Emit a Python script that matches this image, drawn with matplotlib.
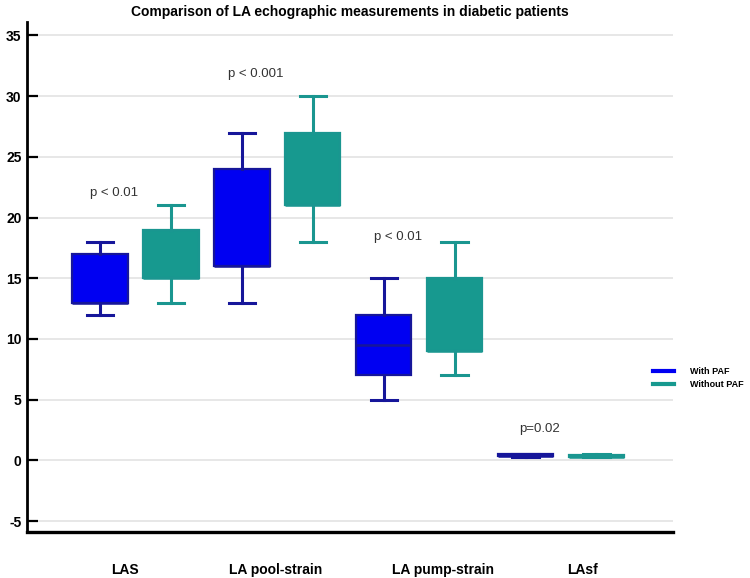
import matplotlib
matplotlib.use("Agg")
import matplotlib.pyplot as plt
from matplotlib.lines import Line2D

plt.rcParams['font.family'] = ['Liberation Sans Narrow', 'Liberation Sans', 'DejaVu Sans']

# box statistics (whisker low, q1, median, q3, whisker high)
measures = ["LAS", "LA pool-strain", "LA pump-strain", "LAsf"]
with_paf_lo = [12, 13, 5, 0.3]
with_paf_q1 = [13, 16, 7, 0.35]
with_paf_med = [13, 16, 9.5, 0.4]
with_paf_q3 = [17, 24, 12, 0.5]
with_paf_hi = [18, 27, 15, 0.55]

without_paf_lo = [13, 18, 7, 0.25]
without_paf_q1 = [15, 21, 9, 0.3]
without_paf_med = [15, 21, 9, 0.3]
without_paf_q3 = [19, 27, 15, 0.45]
without_paf_hi = [21, 30, 18, 0.5]

p_texts = ["p < 0.01", "p < 0.001", "p < 0.01", "p=0.02"]
p_y = [22.0, 31.8, 18.4, 2.6]
label_offset = [0.35, 0.47, 0.84, 0.80]

blue_fill = "#0000f2"
blue_edge = "#16169a"
teal_fill = "#17998f"
teal_edge = "#1a9690"

fig = plt.figure(figsize=(7.5, 5.78), dpi=100)
ax = fig.add_axes([27 / 750, 1 - 532 / 578, (673 - 27) / 750, (532 - 22) / 578])


def stats(lo, q1, med, q3, hi):
    return [dict(whislo=a, q1=b, med=c, q3=d, whishi=e, fliers=[])
            for a, b, c, d, e in zip(lo, q1, med, q3, hi)]


pos_with = [1 + 2 * i for i in range(len(measures))]
pos_without = [2 + 2 * i for i in range(len(measures))]

for st, pos, fc, ec in [
    (stats(with_paf_lo, with_paf_q1, with_paf_med, with_paf_q3, with_paf_hi), pos_with, blue_fill, blue_edge),
    (stats(without_paf_lo, without_paf_q1, without_paf_med, without_paf_q3, without_paf_hi), pos_without, teal_fill, teal_edge),
]:
    ax.bxp(st, positions=pos, widths=0.78, capwidths=0.37, patch_artist=True,
           showfliers=False, manage_ticks=False,
           boxprops=dict(facecolor=fc, edgecolor=ec, linewidth=1.6),
           whiskerprops=dict(color=ec, linewidth=2.2),
           capprops=dict(color=ec, linewidth=2.2),
           medianprops=dict(color=ec, linewidth=1.8),
           zorder=3)

# p-value annotations
for i, (t, y) in enumerate(zip(p_texts, p_y)):
    ax.text(pos_with[i] + 0.2, y, t, ha="center", va="center",
            fontsize=9.5, color="#333333", family=['Liberation Sans', 'DejaVu Sans'])

ax.set_xlim(-0.03, 9.08)
ax.set_ylim(-5.9, 36.1)
ax.set_yticks(range(-5, 40, 5))
ax.set_yticklabels([str(v) for v in range(-5, 40, 5)], fontsize=10, fontweight="bold")
ax.set_xticks([p + o for p, o in zip(pos_with, label_offset)])
ax.set_xticklabels(measures, fontsize=10, fontweight="bold")
ax.tick_params(axis="x", length=0, pad=22)
ax.tick_params(axis="y", direction="in", length=8, width=1.6, pad=4)

ax.grid(axis="y", color="#e3e3e3", linewidth=1.2, zorder=0)
ax.set_axisbelow(True)
for side in ["top", "right"]:
    ax.spines[side].set_visible(False)
ax.spines["left"].set_linewidth(2)
ax.spines["bottom"].set_linewidth(2.4)

fig.text(350 / 750, 1 - 12 / 578,
         "Comparison of LA echographic measurements in diabetic patients",
         ha="center", va="center", fontsize=10, fontweight="bold")

handles = [Line2D([], [], color=blue_fill, lw=3), Line2D([], [], color=teal_fill, lw=3)]
fig.legend(handles, ["With PAF", "Without PAF"], loc="center left",
           bbox_to_anchor=(648 / 750, 1 - 378 / 578), frameon=False,
           prop=dict(size=6.5, weight="bold"), handlelength=2.4,
           handletextpad=1.7, labelspacing=0.45, borderpad=0)

fig.savefig("out.png", dpi=100)
